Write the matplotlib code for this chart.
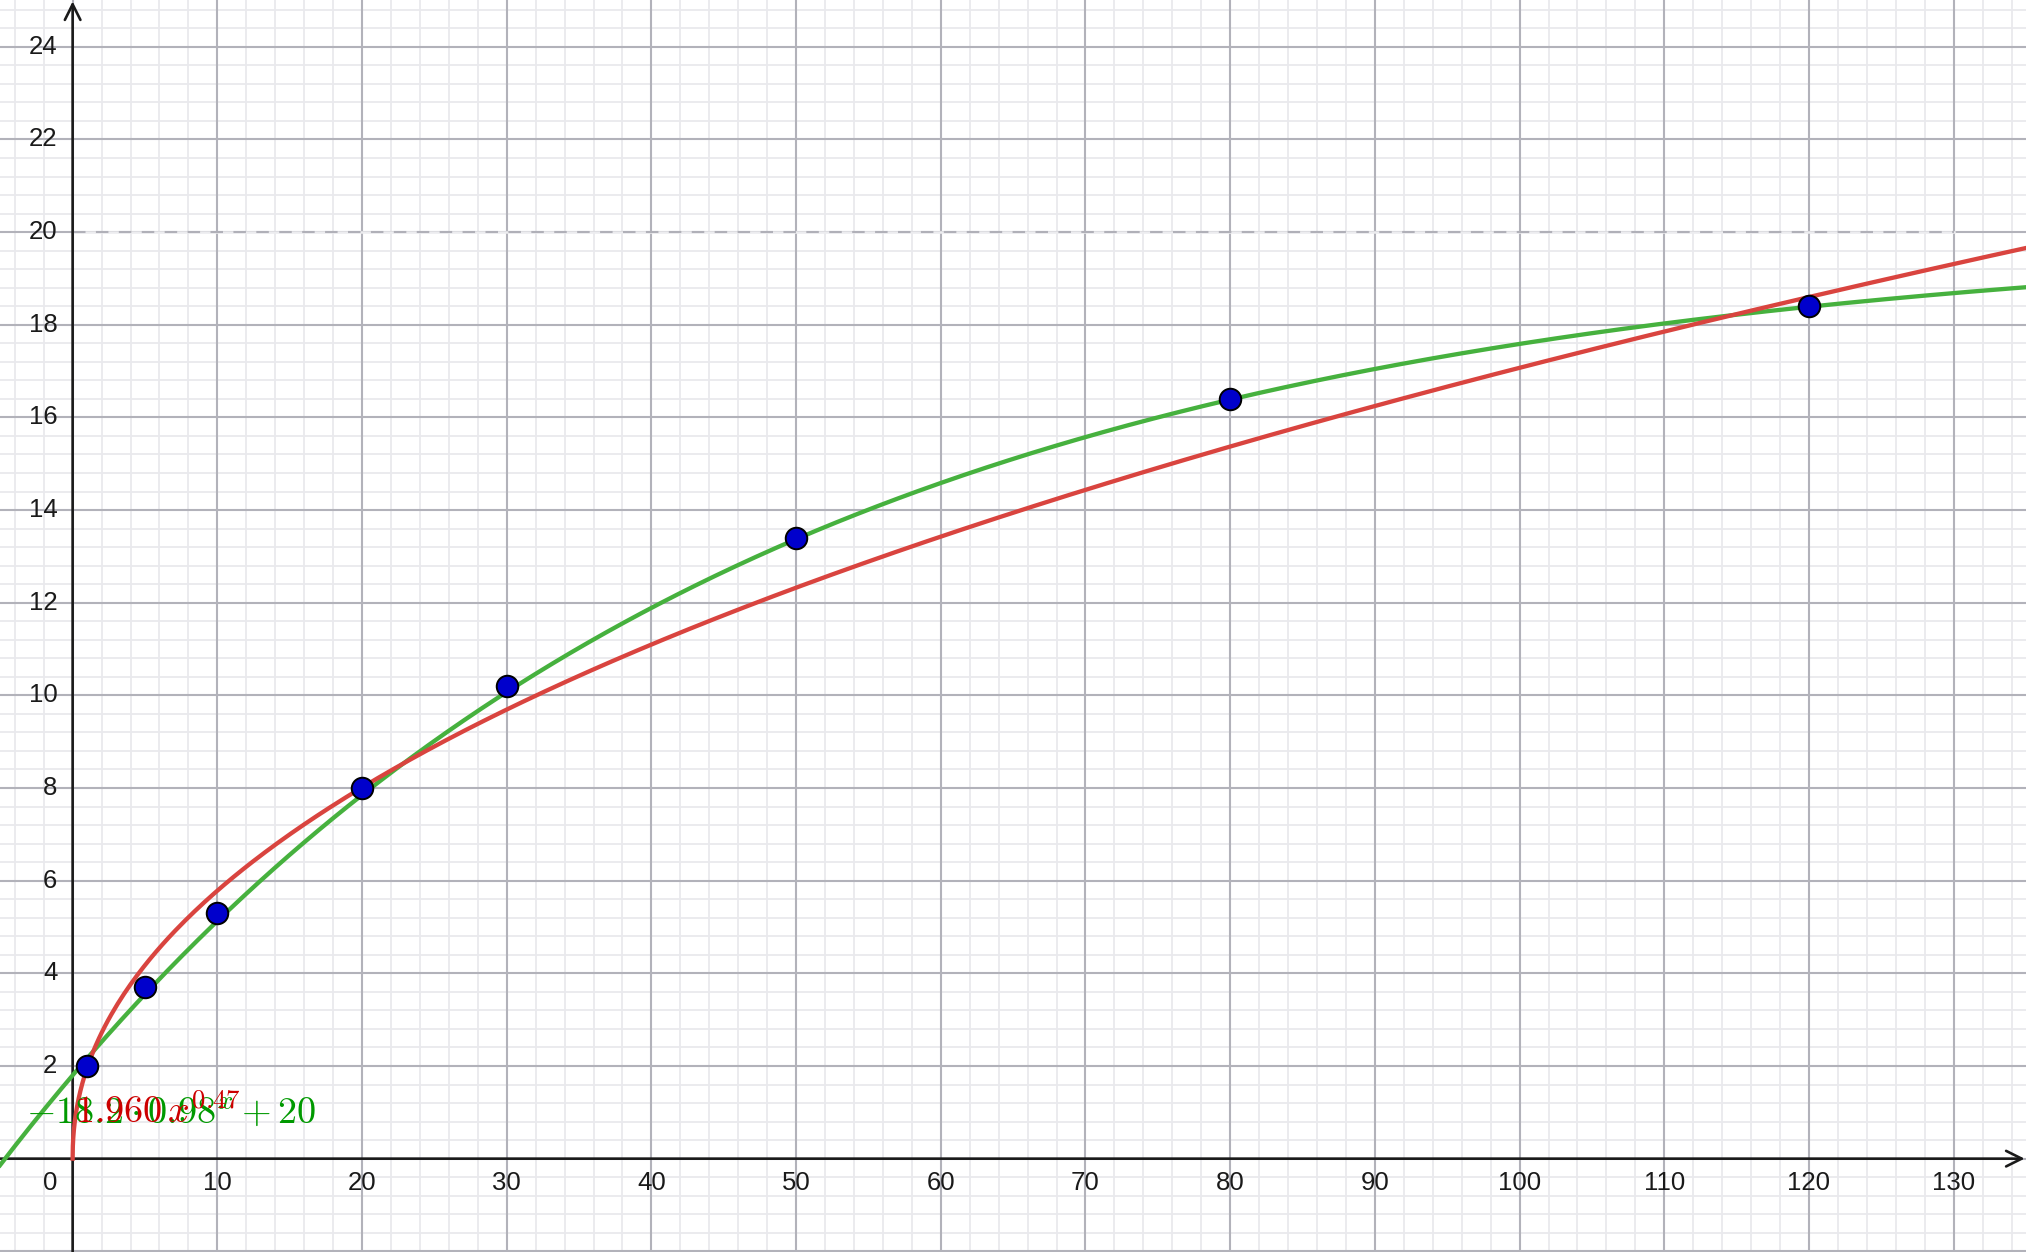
import numpy as np
import matplotlib
matplotlib.use("Agg")
import matplotlib.pyplot as plt

# data points
x_points = [1, 5, 10, 20, 30, 50, 80, 120]
y_points = [2.0, 3.7, 5.3, 8.0, 10.2, 13.4, 16.4, 18.4]

# fitted models
exp_a, exp_b, exp_c = -18.2, 0.98, 20
pow_a, pow_b = 1.960, 0.47
asymptote_y = 20
asymptote_x_end = 130

x_tick_values = [10, 20, 30, 40, 50, 60, 70, 80, 90, 100, 110, 120, 130]
y_tick_values = [2, 4, 6, 8, 10, 12, 14, 16, 18, 20, 22, 24]

green_label = r"$-18.2 \cdot 0.98^{x} + 20$"
red_label = r"$1.960\,x^{0.47}$"

XLIM = (-5.02, 135.0)
YLIM = (-2.015, 25.01)

plt.rcParams["mathtext.fontset"] = "cm"
plt.rcParams["font.family"] = ["Liberation Sans", "DejaVu Sans"]

fig = plt.figure(figsize=(20.26, 12.52), dpi=100)
ax = fig.add_axes([0, 0, 1, 1])
ax.set_xlim(*XLIM)
ax.set_ylim(*YLIM)
for spine in ax.spines.values():
    spine.set_visible(False)
ax.set_xticks([])
ax.set_yticks([])

# grid: minor first, then major on top
minor_x = np.arange(-4, 136, 2)
minor_y = np.arange(-2, 25.2, 0.4)
major_x = np.arange(0, 140, 10)
major_y = np.arange(-2, 26, 2)
ax.vlines(minor_x, *YLIM, color="#e9e9ed", lw=1.3, zorder=0.1)
ax.hlines(minor_y, *XLIM, color="#e9e9ed", lw=1.3, zorder=0.1)
ax.vlines(major_x, *YLIM, color="#b2b2ba", lw=1.5, zorder=0.3)
ax.hlines(major_y, *XLIM, color="#b2b2ba", lw=1.5, zorder=0.3)

# asymptote (dashed, covering the major grid line)
ax.plot([0, asymptote_x_end], [asymptote_y, asymptote_y], color="#ececef",
        lw=1.8, zorder=0.9)
ax.plot([0, asymptote_x_end], [asymptote_y, asymptote_y], color="#b0b0b8",
        lw=1.5, ls=(0, (6, 5)), zorder=1)

# axes with arrows
ax.annotate("", xy=(1, 0), xycoords=("axes fraction", "data"),
            xytext=(0, 0), textcoords=("axes fraction", "data"),
            arrowprops=dict(arrowstyle="->", lw=1.9, color="#1a1a1a",
                            mutation_scale=28, shrinkA=0, shrinkB=1))
ax.annotate("", xy=(0, 1), xycoords=("data", "axes fraction"),
            xytext=(0, 0), textcoords=("data", "axes fraction"),
            arrowprops=dict(arrowstyle="->", lw=1.9, color="#1a1a1a",
                            mutation_scale=28, shrinkA=0, shrinkB=1))

# tick labels
for v in y_tick_values:
    ax.annotate(str(v), xy=(0, v), xytext=(-11, 0), textcoords="offset points",
                ha="right", va="center", fontsize=18.5, color="#1a1a1a")
for v in x_tick_values:
    ax.annotate(str(v), xy=(v, 0), xytext=(0, -17.5), textcoords="offset points",
                ha="center", va="center", fontsize=18.5, color="#1a1a1a")
ax.annotate("0", xy=(0, 0), xytext=(-16, -17.5), textcoords="offset points",
            ha="center", va="center", fontsize=18.5, color="#1a1a1a")

# curves
xs_green = np.linspace(XLIM[0], XLIM[1], 800)
ax.plot(xs_green, exp_a * exp_b ** xs_green + exp_c, color="#46b13e", lw=3.1, zorder=3)
xs_red = np.concatenate([np.linspace(0, 2, 400), np.linspace(2, XLIM[1], 600)])
ax.plot(xs_red, pow_a * xs_red ** pow_b, color="#d9443f", lw=3.1, zorder=3)

# points
ax.plot(x_points, y_points, "o", ms=15.5, mfc="#0000cc", mec="#000000",
        mew=1.4, zorder=5, clip_on=False)

# labels
ax.text(-3.2, 0.78, green_label, color="#009900", fontsize=27.5,
        ha="left", va="baseline", zorder=6)
ax.text(0.16, 0.78, red_label, color="#cc0000", fontsize=27.5,
        ha="left", va="baseline", zorder=6)

fig.savefig("out.png", dpi=100)
